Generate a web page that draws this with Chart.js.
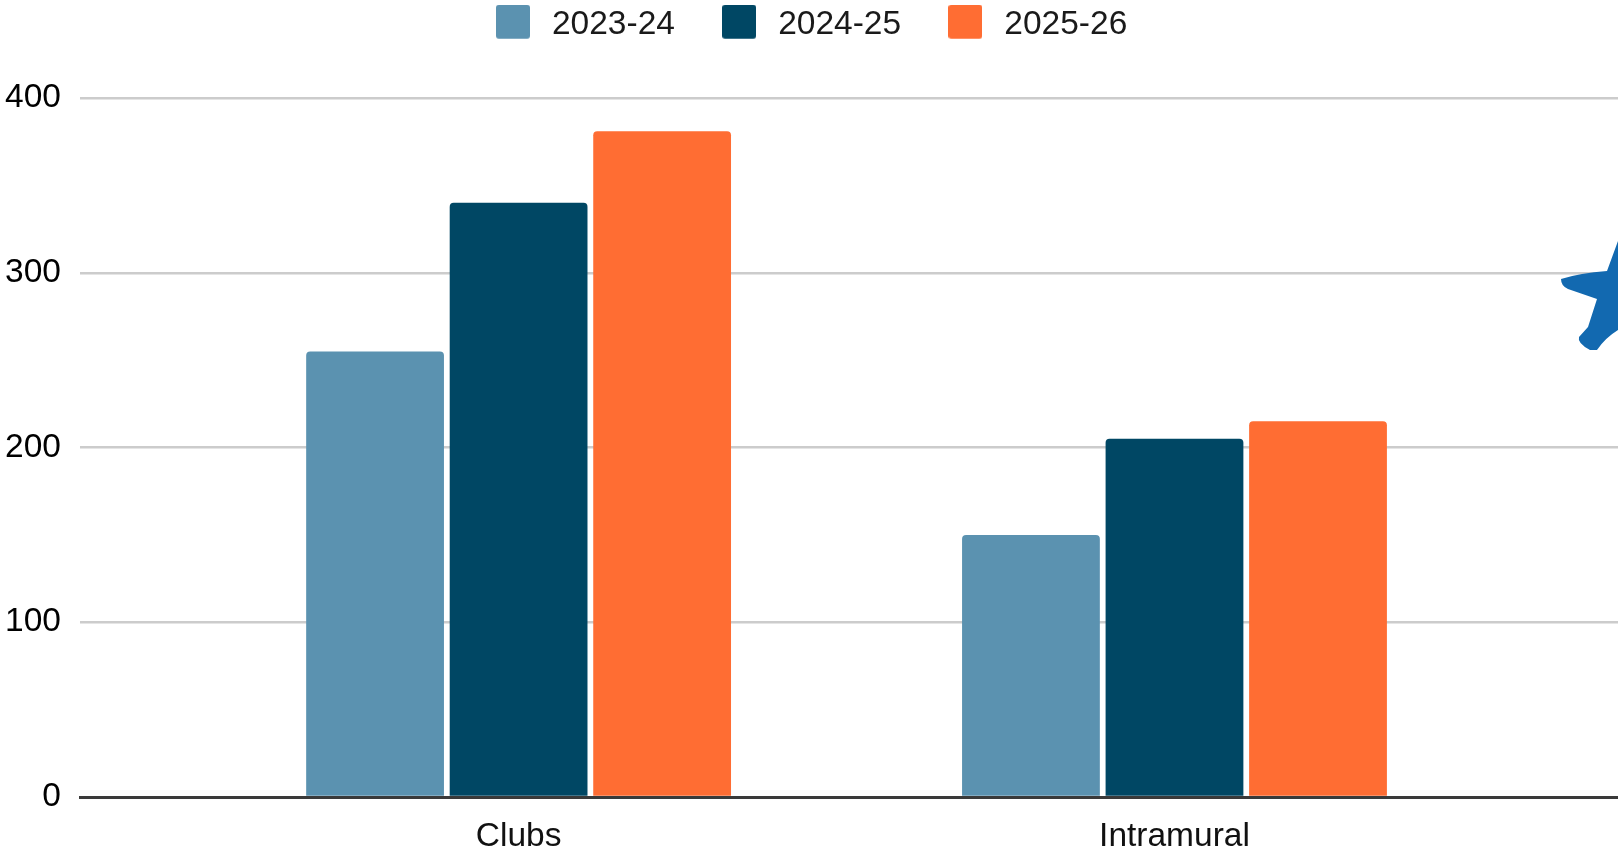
<!DOCTYPE html>
<html><head><meta charset="utf-8">
<style>html,body{margin:0;padding:0;background:#fff;overflow:hidden}canvas{display:block}</style>
<script src="https://cdn.jsdelivr.net/npm/chart.js@4"></script></head>
<body><canvas id="c" width="1618" height="852"></canvas>
<script>
const categories=["Clubs","Intramural"];
const s1=[255,150];
const s2=[340,205];
const s3=[381,215];
const yTicks=[0,100,200,300,400];
const colors=["#5b92b0","#004764","#ff6d33"];
const names=["2023-24","2024-25","2025-26"];
const swatch=col=>{const k=document.createElement('canvas');k.width=34;k.height=40;const g=k.getContext('2d');g.fillStyle=col;g.beginPath();g.roundRect(0,0,34,34,3);g.fill();return k;};
const mk=(i,d)=>({label:names[i],data:d.map((v,j)=>({x:j+1,y:v})),backgroundColor:colors[i],borderRadius:{topLeft:4,topRight:4},borderSkipped:'bottom',barPercentage:0.96,categoryPercentage:0.6565});
const star={id:'star',
beforeLayout(c){if(!c.legend._wrapped){const f=c.legend.fit;c.legend.fit=function(){f.call(this);this.height+=46.5;};c.legend._wrapped=true;}},
afterDraw(c){const x=c.ctx;x.save();x.fillStyle='#1269b0';x.beginPath();
x.moveTo(1618,241);x.lineTo(1607,271);x.quadraticCurveTo(1580,273,1561,279);x.quadraticCurveTo(1561,286,1568,289);x.lineTo(1597,299);x.lineTo(1588,327);x.lineTo(1579,337);x.quadraticCurveTo(1577,343,1590,350);x.lineTo(1597,350);x.quadraticCurveTo(1605,338,1618,330);x.closePath();x.fill();x.restore();}};
new Chart(document.getElementById('c'),{type:'bar',data:{datasets:[mk(0,s1),mk(1,s2),mk(2,s3)]},
plugins:[star],
options:{responsive:false,animation:false,
layout:{padding:{left:0,right:0,top:-34,bottom:0}},
plugins:{legend:{position:'top',labels:{usePointStyle:true,pointStyleWidth:44.5,padding:42,color:'#1a1a1a',font:{family:'Liberation Sans',size:33.5},
generateLabels(ch){return ch.data.datasets.map((d,i)=>({text:d.label,fontColor:'#1a1a1a',pointStyle:swatch(colors[i]),datasetIndex:i,hidden:false}));}}},tooltip:{enabled:false}},
scales:{x:{type:'linear',offset:false,min:0.3313,max:2.6762,
afterBuildTicks(a){a.ticks=categories.map((_,i)=>({value:i+1}));},
afterFit(a){a.height=55;},
grid:{display:false},border:{color:'#3a3a3a',width:3},
ticks:{color:'#111',padding:12,maxRotation:0,autoSkip:false,callback:v=>categories[v-1],font:{family:'Liberation Sans',size:33.5}}},
y:{min:0,max:400,afterBuildTicks(a){a.ticks=yTicks.map(v=>({value:v}));},afterFit(a){a.width=80;},
grid:{color:'#ccc',lineWidth:2.5,drawTicks:false},border:{display:false},ticks:{color:'#000',padding:19,font:{family:'Liberation Sans',size:33.5}}}}}});
</script></body></html>
